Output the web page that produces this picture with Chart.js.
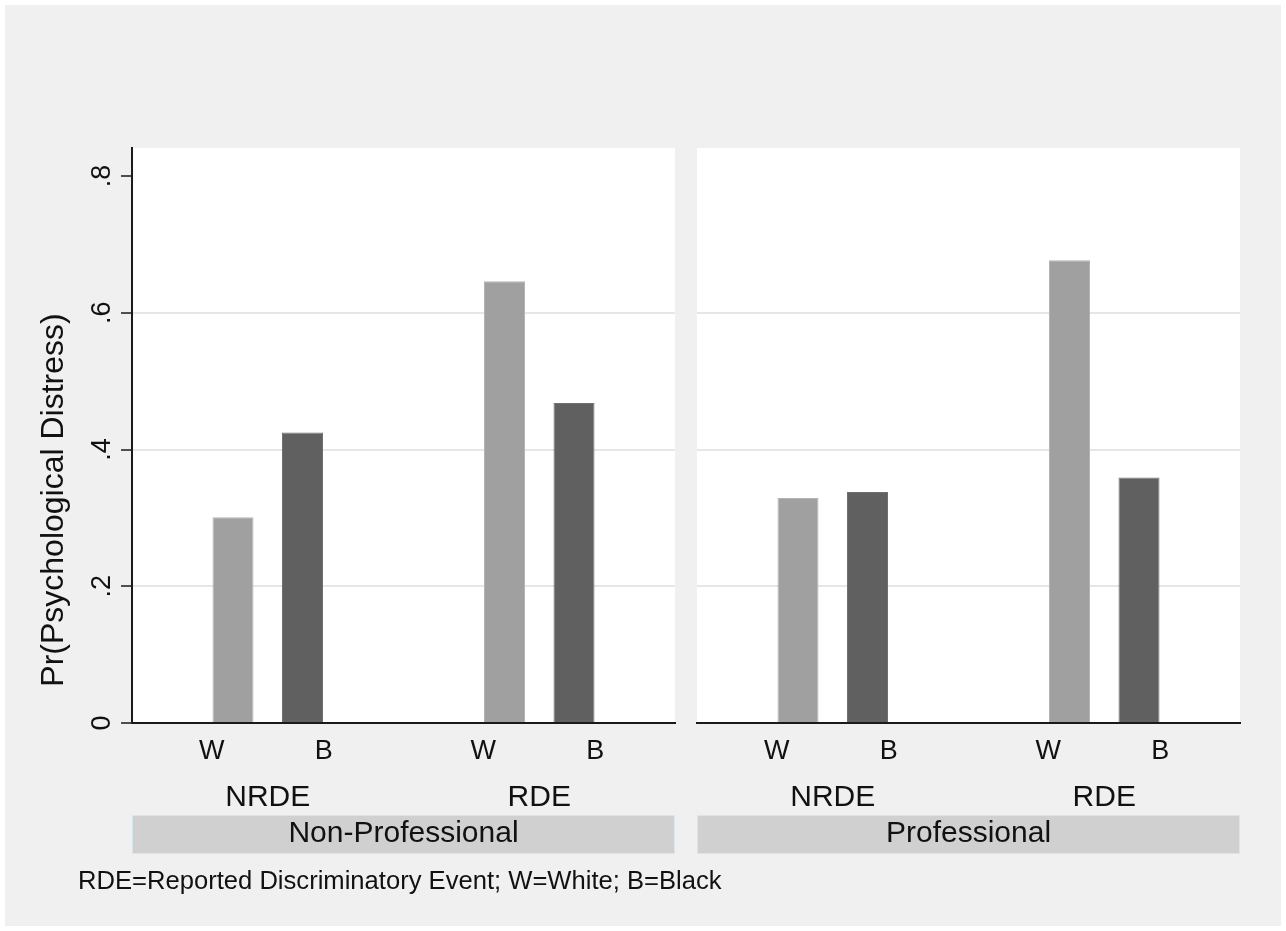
<!DOCTYPE html>
<html>
<head>
<meta charset="utf-8">
<script src="https://cdn.jsdelivr.net/npm/chart.js@4.4.1/dist/chart.umd.min.js"></script>
<style>
  html, body { margin: 0; padding: 0; background: #fff; }
  #frame { position: absolute; left: 5px; top: 5px; width: 1276px; height: 921px; background: #f0f0f0; }
  #left { position: absolute; left: 0; top: 0; }
  #right { position: absolute; left: 686px; top: 0; }
  #note { position: absolute; left: 78px; top: 866px; font: 25.6px "Liberation Sans", Arial, sans-serif; color: #111; white-space: nowrap; }
</style>
</head>
<body>
<div id="frame"></div>
<canvas id="left" width="686" height="931"></canvas>
<canvas id="right" width="600" height="931"></canvas>
<div id="note"></div>

<script>
// data
const groups = ['NRDE', 'RDE'];
const races = ['W', 'B'];
const panels = ['Non-Professional', 'Professional'];
const yTicks = [0, 0.2, 0.4, 0.6, 0.8];
const yTickLabels = ['0', '.2', '.4', '.6', '.8'];
const nonProfWhite = [0.301, 0.646];
const nonProfBlack = [0.425, 0.468];
const profWhite = [0.329, 0.677];
const profBlack = [0.338, 0.359];
const yTitle = 'Pr(Psychological Distress)';
const noteText = 'RDE=Reported Discriminatory Event; W=White; B=Black';

const FONT = '"Liberation Sans", Arial, sans-serif';
const INK = '#111';

document.getElementById('note').textContent = noteText;

// white plot region
const plotBg = {
    id: 'plotBg',
    beforeDraw(chart) {
        const a = chart.chartArea;
        const ctx = chart.ctx;
        ctx.save();
        ctx.fillStyle = '#fff';
        ctx.fillRect(a.left, a.top, a.right - a.left, a.bottom - a.top);
        ctx.restore();
    }
};

// labels under the bars, group names, panel strip, y labels
const panelText = {
    id: 'panelText',
    afterDraw(chart, args, opts) {
        const ctx = chart.ctx;
        const a = chart.chartArea;
        const x = chart.scales.x;
        const y = chart.scales.y;
        const slot = x.width / groups.length;
        ctx.save();
        ctx.fillStyle = INK;
        ctx.textAlign = 'center';
        ctx.textBaseline = 'alphabetic';

        groups.forEach((g, i) => {
            const cx = x.getPixelForTick(i);
            ctx.font = '27px ' + FONT;
            ctx.fillText(races[0], cx - slot * 0.206, 759);
            ctx.fillText(races[1], cx + slot * 0.206, 759);
            ctx.font = '30px ' + FONT;
            ctx.fillText(g, cx, 806);
        });

        // strip
        ctx.fillStyle = '#d0d0d0';
        ctx.fillRect(a.left, 815, a.right - a.left, 39);
        ctx.strokeStyle = '#d8e6ee';
        ctx.lineWidth = 1;
        ctx.strokeRect(a.left + 0.5, 815.5, a.right - a.left - 1, 38);
        ctx.fillStyle = INK;
        ctx.font = '30px ' + FONT;
        ctx.fillText(opts.title, (a.left + a.right) / 2, 842);

        if (opts.axis) {
            ctx.font = '27px ' + FONT;
            yTicks.forEach((v, i) => {
                ctx.save();
                ctx.translate(110, y.getPixelForValue(v));
                ctx.rotate(-Math.PI / 2);
                ctx.fillText(yTickLabels[i], 0, 0);
                ctx.restore();
            });
            ctx.font = '32px ' + FONT;
            ctx.translate(63, 500);
            ctx.rotate(-Math.PI / 2);
            ctx.fillText(yTitle, 0, 0);
        }
        ctx.restore();
    }
};

function makePanel(id, title, white, black, axis) {
    const canvas = document.getElementById(id);
    const yWidth = axis ? 132 : 11;
    const rightPad = axis ? 11 : 46;
    return new Chart(canvas, {
        type: 'bar',
        data: {
            labels: groups,
            datasets: [
                {
                    label: races[0],
                    data: white,
                    backgroundColor: '#a0a0a0',
                    borderColor: '#b4b4b4',
                    borderWidth: 1,
                    categoryPercentage: 0.512,
                    barPercentage: 0.59
                },
                {
                    label: races[1],
                    data: black,
                    backgroundColor: '#606060',
                    borderColor: '#707070',
                    borderWidth: 1,
                    categoryPercentage: 0.512,
                    barPercentage: 0.59
                }
            ]
        },
        options: {
            responsive: false,
            animation: false,
            layout: { padding: { top: 148, right: rightPad, left: 0, bottom: 0 } },
            plugins: {
                legend: { display: false },
                tooltip: { enabled: false },
                panelText: { title: title, axis: axis }
            },
            scales: {
                x: {
                    z: 1,
                    grid: { display: false, drawTicks: false },
                    border: { display: true, color: '#1a1a1a', width: 2 },
                    ticks: { display: false },
                    afterFit: s => { s.height = 208; }
                },
                y: {
                    min: 0,
                    max: 0.841,
                    afterBuildTicks: s => { s.ticks = yTicks.map(v => ({ value: v })); },
                    ticks: { display: false },
                    grid: {
                        color: c => (c.tick && c.tick.value > 0.1 && c.tick.value < 0.7) ? '#e6e6e6' : 'rgba(0,0,0,0)',
                        lineWidth: 2,
                        drawTicks: axis,
                        tickLength: 11,
                        tickColor: '#1a1a1a',
                        tickWidth: 1.5
                    },
                    border: { display: axis, color: '#1a1a1a', width: 2 },
                    afterFit: s => { s.width = yWidth; }
                }
            }
        },
        plugins: [plotBg, panelText]
    });
}

makePanel('left', panels[0], nonProfWhite, nonProfBlack, true);
makePanel('right', panels[1], profWhite, profBlack, false);
</script>
</body>
</html>
